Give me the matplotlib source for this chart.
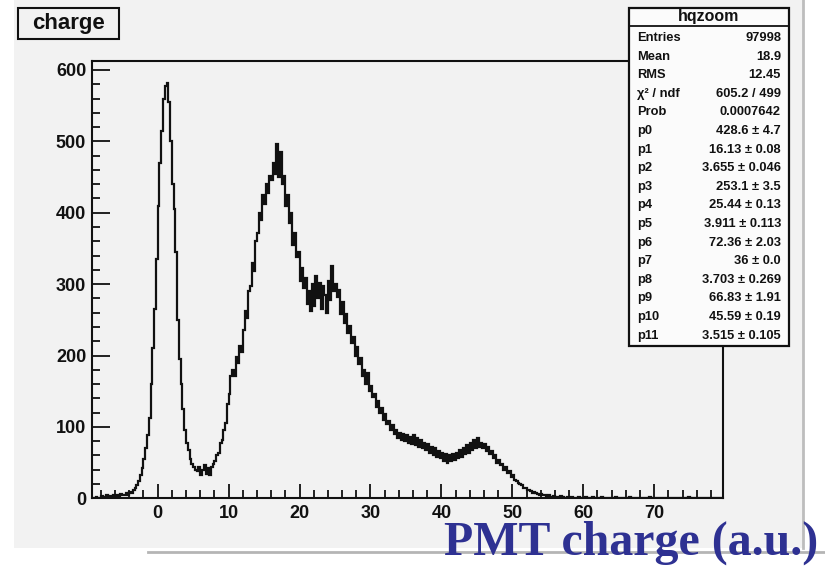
import numpy as np
import matplotlib.pyplot as plt
from matplotlib.patches import Rectangle
from matplotlib.lines import Line2D
from matplotlib.ticker import MultipleLocator

# ---- histogram "hqzoom" (bin width 0.25, first bin starts at -9.5) ----
bin_lo = -9.5
bin_w = 0.25
counts = [
    # -9.5 .. -4.75
    0, 1, 0, 2, 1, 0, 3, 1, 2, 4, 1, 3, 2, 5, 2, 4, 3, 6, 4, 5,
    # -4.5 .. 0.25
    7, 5, 9, 8, 11, 14, 18, 24, 32, 42, 55, 70, 88, 112, 160, 210, 265, 335, 410, 470,
    # 0.5 .. 5.25
    515, 560, 578, 582, 555, 500, 440, 405, 345, 250, 195, 160, 125, 95, 78, 68, 55, 48, 44, 40,
    # 5.5 .. 10.25
    38, 44, 32, 40, 46, 34, 42, 32, 44, 48, 52, 60, 64, 78, 82, 96, 106, 132, 146, 172,
    # 10.5 .. 15.25
    180, 172, 198, 190, 214, 205, 236, 262, 252, 290, 298, 330, 318, 360, 372, 400, 390, 425, 412, 440,
    # 15.5 .. 20.25
    428, 452, 446, 470, 455, 497, 450, 485, 440, 452, 410, 425, 385, 400, 355, 372, 338, 345, 305, 322,
    # 20.5 .. 25.25
    295, 308, 272, 290, 262, 300, 270, 312, 280, 302, 265, 298, 285, 260, 305, 278, 325, 290, 300, 282,
    # 25.5 .. 30.25
    292, 258, 275, 245, 258, 232, 242, 218, 226, 200, 212, 188, 196, 172, 180, 160, 175, 150, 158, 142,
    # 30.5 .. 35.25
    146, 128, 136, 120, 126, 110, 118, 104, 108, 96, 102, 90, 96, 84, 92, 82, 90, 80, 88, 78,
    # 35.5 .. 40.25
    86, 76, 88, 74, 84, 72, 82, 70, 78, 68, 76, 64, 72, 60, 70, 58, 66, 56, 64, 52,
    # 40.5 .. 45.25
    62, 50, 60, 52, 62, 54, 64, 56, 68, 58, 70, 62, 74, 64, 78, 68, 82, 70, 84, 72,
    # 45.5 .. 50.25
    78, 70, 76, 66, 72, 62, 66, 56, 60, 50, 54, 46, 48, 40, 44, 36, 38, 30, 32, 26,
    # 50.5 .. 55.25
    24, 22, 20, 18, 15, 14, 12, 11, 10, 8, 9, 7, 6, 5, 6, 4, 4, 3, 4, 2,
    # 55.5 .. 79.75
    2, 3, 1, 2, 1, 3, 2, 1, 0, 2, 1, 2, 1, 0, 1, 2, 1, 1, 0, 2,
    1, 0, 1, 2, 0, 1, 1, 0, 2, 1, 0, 1, 1, 0, 1, 0, 2, 1, 0, 1,
    1, 0, 0, 1, 2, 0, 1, 0, 1, 0, 0, 1, 0, 1, 0, 2, 0, 1, 0, 0,
    1, 0, 1, 0, 0, 1, 1, 0, 0, 1, 0, 0, 1, 0, 1, 0, 0, 2, 0, 1,
    0, 0, 1, 0, 0, 1, 0, 0, 0, 1, 0, 1, 0, 0, 1, 0, 0, 1,
]

x_ticks = [0, 10, 20, 30, 40, 50, 60, 70]
y_ticks = [0, 100, 200, 300, 400, 500, 600]

stat_labels = ["Entries", "Mean", "RMS", "\u03c7\u00b2 / ndf", "Prob",
               "p0", "p1", "p2", "p3", "p4", "p5", "p6", "p7", "p8", "p9", "p10", "p11"]
stat_values = ["97998", "18.9", "12.45", "605.2 / 499", "0.0007642",
               "428.6 \u00b1 4.7", "16.13 \u00b1 0.08", "3.655 \u00b1 0.046",
               "253.1 \u00b1 3.5", "25.44 \u00b1 0.13", "3.911 \u00b1 0.113",
               "72.36 \u00b1 2.03", "36 \u00b1 0.0", "3.703 \u00b1 0.269",
               "66.83 \u00b1 1.91", "45.59 \u00b1 0.19", "3.515 \u00b1 0.105"]

W, H = 825, 566
bg = '#f2f2f2'
ink = '#111111'
font = 'Liberation Sans'


def fx(px):
    return px / W


def fy(py):
    return 1 - py / H


fig = plt.figure(figsize=(W / 100, H / 100), dpi=100, facecolor='white')

# slide canvas + its border lines
fig.add_artist(Rectangle((fx(14), fy(548)), fx(803) - fx(14), 1 - fy(548) + 0.01,
                         transform=fig.transFigure, facecolor=bg, edgecolor='none', zorder=-5))
fig.add_artist(Line2D([fx(803), fx(803)], [fy(548), 1], transform=fig.transFigure,
                      color='#bdbdbd', lw=2, zorder=-4))
fig.add_artist(Line2D([fx(148), 1], [fy(552), fy(552)], transform=fig.transFigure,
                      color='#b5b5b5', lw=2, zorder=-4))

ax = fig.add_axes([fx(91.7), fy(498.3), fx(723) - fx(91.7), fy(61) - fy(498.3)])
ax.set_facecolor(bg)

edges = bin_lo + bin_w * np.arange(len(counts) + 1)
ax.stairs(counts, edges, color=ink, lw=1.6)

ax.set_xlim(-9.3, 79.7)
ax.set_ylim(0, 612.6)
ax.set_xticks(x_ticks)
ax.set_yticks(y_ticks)
ax.xaxis.set_minor_locator(MultipleLocator(2))
ax.yaxis.set_minor_locator(MultipleLocator(20))
ax.tick_params(axis='both', which='both', direction='in', top=False, right=False,
               color=ink, width=1.3)
ax.tick_params(axis='x', which='major', length=10, pad=5)
ax.tick_params(axis='x', which='minor', length=6)
ax.tick_params(axis='y', which='major', length=13, pad=4)
ax.tick_params(axis='y', which='minor', length=6)
for lab in ax.get_xticklabels() + ax.get_yticklabels():
    lab.set_fontfamily(font)
    lab.set_fontweight('bold')
    lab.set_fontsize(13)
    lab.set_color(ink)
for s in ax.spines.values():
    s.set_color(ink)
    s.set_linewidth(1.5)

# title box "charge"
fig.add_artist(Rectangle((fx(18), fy(39)), fx(119) - fx(18), fy(8) - fy(39),
                         transform=fig.transFigure, facecolor=bg, edgecolor=ink, lw=1.5))
fig.text(fx(68.5), fy(23), "charge", ha='center', va='center', family=font,
         weight='bold', fontsize=16, color=ink)

# stats box
fig.add_artist(Rectangle((fx(629), fy(346)), fx(789) - fx(629), fy(8) - fy(346),
                         transform=fig.transFigure, facecolor='#fbfbfb', edgecolor=ink, lw=1.6))
fig.add_artist(Line2D([fx(629), fx(789)], [fy(26), fy(26)], transform=fig.transFigure,
                      color=ink, lw=1.3))
fig.text(fx(709), fy(17), "hqzoom", ha='center', va='center', family=font,
         weight='bold', fontsize=11.5, color=ink)
for i, (lab, val) in enumerate(zip(stat_labels, stat_values)):
    ry = 38 + i * 18.6
    fig.text(fx(637), fy(ry), lab, ha='left', va='center', family=font,
             weight='bold', fontsize=9.3, color=ink)
    fig.text(fx(781), fy(ry), val, ha='right', va='center', family=font,
             weight='bold', fontsize=9.3, color=ink)

fig.text(fx(818), fy(555), "PMT charge (a.u.)", ha='right', va='baseline',
         family='Liberation Serif', weight='bold', fontsize=34.5, color='#2e3192')

fig.savefig('out.png', dpi=100, facecolor=fig.get_facecolor())
